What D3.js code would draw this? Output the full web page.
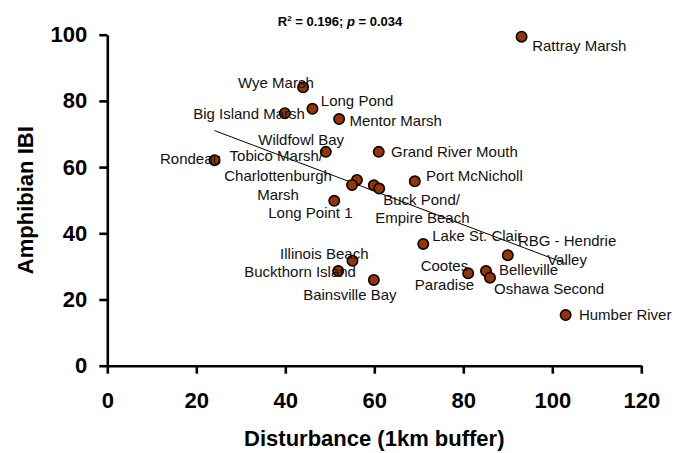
<!DOCTYPE html>
<html>
<head>
<meta charset="utf-8">
<script src="https://cdn.jsdelivr.net/npm/d3@7"></script>
<style>
  html, body { margin: 0; padding: 0; background: #fff; }
  svg { display: block; font-family: "Liberation Sans", Arial, sans-serif; }
</style>
</head>
<body>
<svg id="chart" width="688" height="453"></svg>
<script>
// ---- data ----
const sites = ["Rattray Marsh", "Wye Marsh", "Long Pond", "Big Island Marsh", "Mentor Marsh",
  "Wildfowl Bay", "Grand River Mouth", "Rondeau", "Tobico Marsh/", "Charlottenburgh\nMarsh",
  "Buck Pond/", "Empire Beach", "Port McNicholl", "Long Point 1", "Illinois Beach",
  "Buckthorn Island", "Bainsville Bay", "Lake St. Clair", "RBG - Hendrie\nValley",
  "Cootes\nParadise", "Belleville", "Oshawa Second", "Humber River"];
const disturbance = [93.1, 44.0, 46.1, 39.9, 52.1, 49.1, 61.0, 24.1, 56.1, 55.0,
  59.9, 61.1, 69.1, 51.0, 55.1, 51.9, 59.9, 71.0, 90.0, 81.1, 85.1, 86.0, 103.0];
const amphibianIBI = [99.4, 84.1, 77.6, 76.3, 74.5, 64.6, 64.6, 62.1, 56.1, 54.6,
  54.5, 53.5, 55.7, 49.8, 31.7, 28.6, 25.9, 36.8, 33.4, 27.9, 28.6, 26.6, 15.3];
const xTicks = [0, 20, 40, 60, 80, 100, 120];
const yTicks = [0, 20, 40, 60, 80, 100];
const fitIntercept = 83.3;
const fitSlope = -0.509;
const fitRange = [24.1, 103.0];
const xTitle = "Disturbance (1km buffer)";
const yTitle = "Amphibian IBI";

// ---- label layout (offsets from the point, px) ----
const labelLayout = [
  {dx: 10.6, dy: 9.3, a: "start"}, {dx: 10.7, dy: -4.6, a: "end"}, {dx: 8.4, dy: -8, a: "start"},
  {dx: 20, dy: 0.7, a: "end"}, {dx: 10.3, dy: 1.7, a: "start"}, {dx: 18.3, dy: -12, a: "end"},
  {dx: 12.3, dy: 0.3, a: "start"}, {dx: 6.3, dy: -1, a: "end"}, {dx: -34, dy: -24.3, a: "end"},
  {dx: -74, dy: -9, a: "middle"}, {dx: 47.7, dy: 14, a: "middle"}, {dx: 43.2, dy: 29.6, a: "middle"},
  {dx: 11.3, dy: -5.3, a: "start"}, {dx: -66, dy: 11.8, a: "start"}, {dx: 16, dy: -7.4, a: "end"},
  {dx: 17.7, dy: 0.7, a: "end"}, {dx: 22.7, dy: 14.3, a: "end"}, {dx: 9, dy: -8, a: "start"},
  {dx: 59.3, dy: -14.3, a: "middle"}, {dx: -23.8, dy: -7.3, a: "middle"}, {dx: 13, dy: -1.7, a: "start"},
  {dx: 4, dy: 10.6, a: "start"}, {dx: 13.3, dy: 0, a: "start"}
];

const svg = d3.select("#chart");
const x = d3.scaleLinear().domain([0, 120]).range([107.3, 641.3]);
const y = d3.scaleLinear().domain([0, 100]).range([365.7, 34.7]);

// axes
const xAxis = svg.append("g").attr("transform", `translate(0,${y(0)})`)
  .call(d3.axisBottom(x).tickValues(xTicks).tickSize(8).tickPadding(19).tickSizeOuter(0));
const yAxis = svg.append("g").attr("transform", `translate(${x(0)},0)`)
  .call(d3.axisLeft(y).tickValues(yTicks).tickSize(8).tickPadding(12).tickSizeOuter(0));
[xAxis, yAxis].forEach(g => {
  g.selectAll(".domain").attr("stroke", "#000").attr("stroke-width", 2.6);
  g.selectAll(".tick line").attr("stroke", "#000").attr("stroke-width", 2.6);
  g.selectAll(".tick text").attr("fill", "#000").attr("font-size", 22).attr("font-weight", "bold")
    .attr("font-family", "'Liberation Sans', Arial, sans-serif");
});

// titles
svg.append("text").attr("x", x(60)).attr("y", 446).attr("text-anchor", "middle")
  .attr("font-size", 22).attr("font-weight", "bold").text(xTitle);
svg.append("text").attr("transform", `translate(33,${y(50)}) rotate(-90)`).attr("text-anchor", "middle")
  .attr("font-size", 22).attr("font-weight", "bold").text(yTitle);

const title = svg.append("text").attr("x", 340).attr("y", 25.5).attr("text-anchor", "middle")
  .attr("font-size", 13).attr("font-weight", "bold");
title.append("tspan").text("R");
title.append("tspan").attr("font-size", 8).attr("dy", -5).text("2");
title.append("tspan").attr("dy", 5).text(" = 0.196; ");
title.append("tspan").attr("font-style", "italic").text("p");
title.append("tspan").text(" = 0.034");

// regression line
svg.append("line")
  .attr("x1", x(fitRange[0])).attr("y1", y(fitIntercept + fitSlope * fitRange[0]))
  .attr("x2", x(fitRange[1])).attr("y2", y(fitIntercept + fitSlope * fitRange[1]))
  .attr("stroke", "#000").attr("stroke-width", 1);

// points
const pts = sites.map((s, i) => ({name: s, dx: disturbance[i], iv: amphibianIBI[i], lay: labelLayout[i]}));
svg.append("g").selectAll("circle").data(pts).join("circle")
  .attr("cx", d => x(d.dx)).attr("cy", d => y(d.iv)).attr("r", 5.2)
  .attr("fill", "#993300").attr("stroke", "#000").attr("stroke-width", 1.6);

// labels
const lbl = svg.append("g").selectAll("text").data(pts).join("text")
  .attr("font-size", 15).attr("fill", "#111")
  .attr("text-anchor", d => d.lay.a)
  .attr("x", d => x(d.dx) + d.lay.dx)
  .attr("y", d => y(d.iv) + d.lay.dy);
lbl.each(function(d) {
  const t = d3.select(this);
  d.name.split("\n").forEach((line, k) => {
    t.append("tspan").attr("x", x(d.dx) + d.lay.dx)
      .attr("dy", k === 0 ? "0.35em" : 19).text(line);
  });
});
</script>
</body>
</html>
